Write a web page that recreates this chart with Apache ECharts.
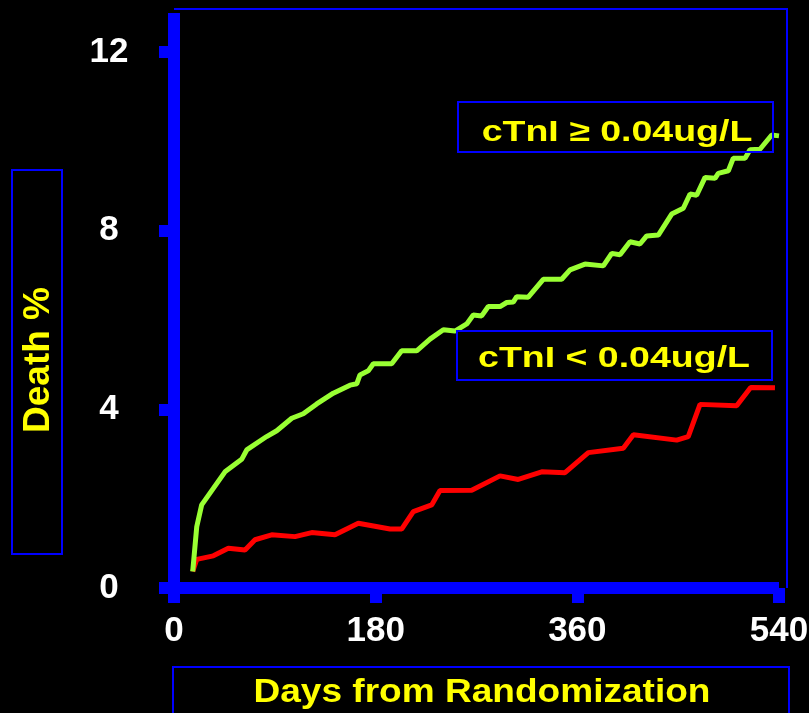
<!DOCTYPE html>
<html>
<head>
<meta charset="utf-8">
<script src="https://cdn.jsdelivr.net/npm/echarts@6/dist/echarts.min.js"></script>
<style>
html,body{margin:0;padding:0;background:#000;}
#chart{width:809px;height:713px;}
</style>
</head>
<body>
<div id="chart"></div>
<script>
// Data: [day, death %]
var highTnI = [
  [16.7,0.37],[20.3,1.37],[24.7,1.86],[35.1,2.23],[45.5,2.60],[60.4,2.88],[64.9,3.09],
  [82.7,3.39],[91.7,3.52],[105.1,3.80],[115.4,3.90],[127.4,4.12],[142.2,4.36],[157.1,4.54],
  [163.1,4.57],[166.0,4.77],[173.4,4.86],[177.9,5.02],[194.3,5.02],[203.2,5.31],[216.6,5.31],
  [228.5,5.57],[240.4,5.78],[250.8,5.75],[261.3,5.91],[267.1,6.11],[274.6,6.09],[280.5,6.30],
  [291.0,6.30],[297.0,6.39],[302.8,6.40],[305.9,6.52],[316.2,6.51],[329.6,6.91],[346.0,6.91],
  [353.5,7.12],[366.8,7.25],[383.2,7.21],[390.7,7.49],[398.1,7.46],[407.0,7.75],[415.9,7.70],
  [421.9,7.88],[432.3,7.90],[444.2,8.37],[454.6,8.50],[460.6,8.82],[466.5,8.79],[474.0,9.19],
  [482.9,9.17],[485.8,9.28],[494.8,9.34],[499.2,9.62],[509.7,9.62],[514.1,9.81],[523.0,9.82],
  [533.5,10.14],[540.0,10.12]
];
var lowTnI = [
  [16.7,0.37],[20.3,0.64],[35.1,0.72],[48.5,0.89],[63.4,0.85],[72.3,1.08],[87.2,1.19],
  [108.0,1.15],[122.9,1.24],[143.7,1.19],[164.5,1.45],[192.8,1.32],[203.2,1.32],[213.6,1.71],
  [230.0,1.86],[237.4,2.18],[265.7,2.19],[291.0,2.51],[307.3,2.43],[328.2,2.60],[349.0,2.58],
  [369.8,3.03],[401.0,3.13],[410.0,3.43],[448.7,3.31],[459.0,3.39],[469.5,4.11],[502.2,4.08],
  [514.7,4.49],[536.4,4.48]
];
var xTicks = [0, 180, 360, 540];
var yTicks = [0, 4, 8, 12];
var xLabelColors = ['#ffffff', '#ffff00', '#ffffff', '#ffff00'];
var seriesNames = ['cTnI ≥ 0.04ug/L', 'cTnI < 0.04ug/L'];
var xTitle = 'Days from Randomization';
var yTitle = 'Death %';

var FONT = '"Liberation Sans", Arial, sans-serif';
var BLUE = '#0000ff';
var chart = echarts.init(document.getElementById('chart'));
chart.setOption({
  backgroundColor: '#000000',
  animation: false,
  grid: { left: 174, right: 30, top: 13, bottom: 125, containLabel: false, outerBoundsMode: 'none' },
  xAxis: {
    type: 'value', min: 0, max: 540,
    axisLine: { show: true, onZero: false, lineStyle: { color: BLUE, width: 12, cap: 'butt' } },
    axisTick: { show: true, length: 15, customValues: xTicks, lineStyle: { color: BLUE, width: 12 } },
    axisLabel: {
      customValues: xTicks, margin: 26, fontSize: 35, fontWeight: 'bold', fontFamily: FONT,
      color: function (v) { return xLabelColors[xTicks.indexOf(v)] || '#fff'; }
    },
    splitLine: { show: false }
  },
  yAxis: {
    type: 'value', min: 0, max: 12.87,
    axisLine: { show: true, onZero: false, lineStyle: { color: BLUE, width: 12, cap: 'butt' } },
    axisTick: { show: true, length: 15, customValues: yTicks, lineStyle: { color: BLUE, width: 12 } },
    axisLabel: {
      customValues: yTicks, margin: 65, align: 'center', fontSize: 35, fontWeight: 'bold',
      fontFamily: FONT, color: '#ffffff'
    },
    splitLine: { show: false }
  },
  series: [
    { name: seriesNames[1], type: 'line', data: lowTnI, showSymbol: false, symbol: 'none',
      lineStyle: { color: '#ff0000', width: 5 }, z: 3 },
    { name: seriesNames[0], type: 'line', data: highTnI, showSymbol: false, symbol: 'none',
      lineStyle: { color: '#99ff33', width: 5 }, z: 4 }
  ],
  graphic: [
    { type: 'polyline', shape: { points: [[174, 9], [787, 9], [787, 588]] },
      style: { stroke: BLUE, lineWidth: 2, fill: null }, z: 1 },
    { type: 'rect', shape: { x: 12, y: 170, width: 50, height: 384 },
      style: { stroke: BLUE, lineWidth: 2, fill: null } },
    { type: 'text', x: 39, y: 360, rotation: Math.PI / 2,
      style: { text: yTitle, fill: '#ffff00', font: 'bold 37px ' + FONT, align: 'center', verticalAlign: 'middle' } },
    { type: 'rect', shape: { x: 173, y: 667, width: 616, height: 60 },
      style: { stroke: BLUE, lineWidth: 2, fill: null } },
    { type: 'text', x: 482, y: 693, scaleX: 1.14,
      style: { text: xTitle, fill: '#ffff00', font: 'bold 32.5px ' + FONT, align: 'center', verticalAlign: 'middle' } },
    { type: 'rect', shape: { x: 458, y: 102, width: 315, height: 50 },
      style: { stroke: BLUE, lineWidth: 2, fill: null }, z: 10 },
    { type: 'text', x: 617, y: 133, z: 11, scaleX: 1.25,
      style: { text: seriesNames[0], fill: '#ffff00', font: 'bold 30px ' + FONT, align: 'center', verticalAlign: 'middle' } },
    { type: 'rect', shape: { x: 457, y: 331, width: 315, height: 49 },
      style: { stroke: BLUE, lineWidth: 2, fill: null }, z: 10 },
    { type: 'text', x: 614, y: 359, z: 11, scaleX: 1.25,
      style: { text: seriesNames[1], fill: '#ffff00', font: 'bold 30px ' + FONT, align: 'center', verticalAlign: 'middle' } }
  ]
});
</script>
</body>
</html>
